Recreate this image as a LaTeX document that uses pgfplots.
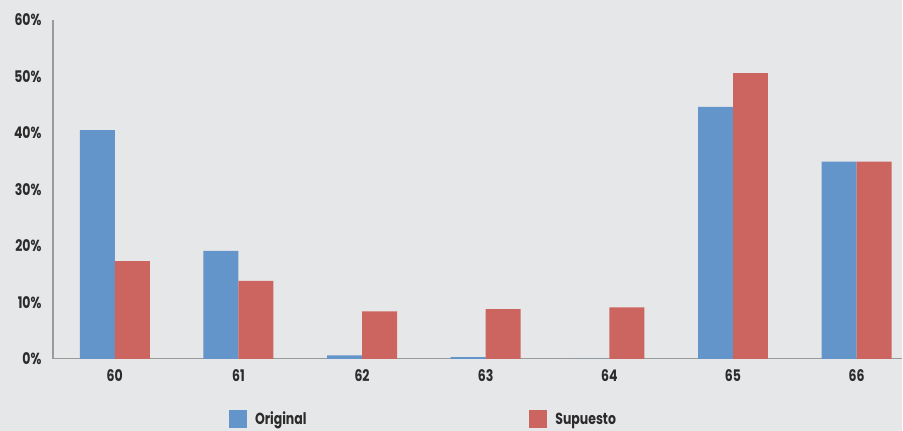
\documentclass[border=0pt]{standalone}
\usepackage{fontspec}
\setmainfont{Poppins}[FakeStretch=0.78]
\usepackage{pgfplots}
\pgfplotsset{compat=1.18}
\definecolor{bg}{HTML}{E6E7E9}
\definecolor{cblue}{HTML}{6495CA}
\definecolor{cred}{HTML}{CC655F}
\definecolor{axgray}{HTML}{9A9A9A}
\definecolor{txt}{HTML}{2B2B2B}
\begin{document}
\begin{tikzpicture}[x=1pt,y=1pt]
\fill[bg] (-53,-72) rectangle (850,359);
\begin{axis}[
  scale only axis, width=850pt, height=339pt,
  at={(0,0)}, anchor=south west,
  ybar=0pt, bar width=35pt,
  xmin=-0.5, xmax=6.37, ymin=0, ymax=60,
  xtick={0,...,6}, xticklabels={60,61,62,63,64,65,66},
  ytick={0,10,...,60},
  yticklabel={\pgfmathprintnumber{\tick}\%},
  /pgf/number format/assume math mode=true,
  axis x line*=bottom, axis y line*=left,
  axis line style={axgray, line width=1.2pt},
  major tick length=0pt,
  tick label style={font=\fontsize{16}{18}\selectfont\bfseries, text=txt},
  xticklabel style={yshift=-7pt},
  yticklabel style={xshift=-8pt},
  clip=false,
  legend columns=2,
  legend style={at={(rel axis cs:0.2035,-0.145)}, anchor=north west, draw=none, fill=none,
    font=\fontsize{16}{18}\selectfont\bfseries, text=txt,
    /tikz/every odd column/.append style={column sep=6pt},
    /tikz/every even column/.append style={column sep=221pt}},
  legend image code/.code={\fill[#1] (0pt,-9pt) rectangle (18pt,9pt);},
]
\addplot[fill=cblue, draw=none] coordinates {(0,40.5) (1,19.1) (2,0.6) (3,0.3) (4,0) (5,44.6) (6,34.9)};
\addplot[fill=cred, draw=none] coordinates {(0,17.3) (1,13.8) (2,8.4) (3,8.8) (4,9.1) (5,50.6) (6,34.9)};
\legend{Original,Supuesto}
\end{axis}
\end{tikzpicture}
\end{document}
